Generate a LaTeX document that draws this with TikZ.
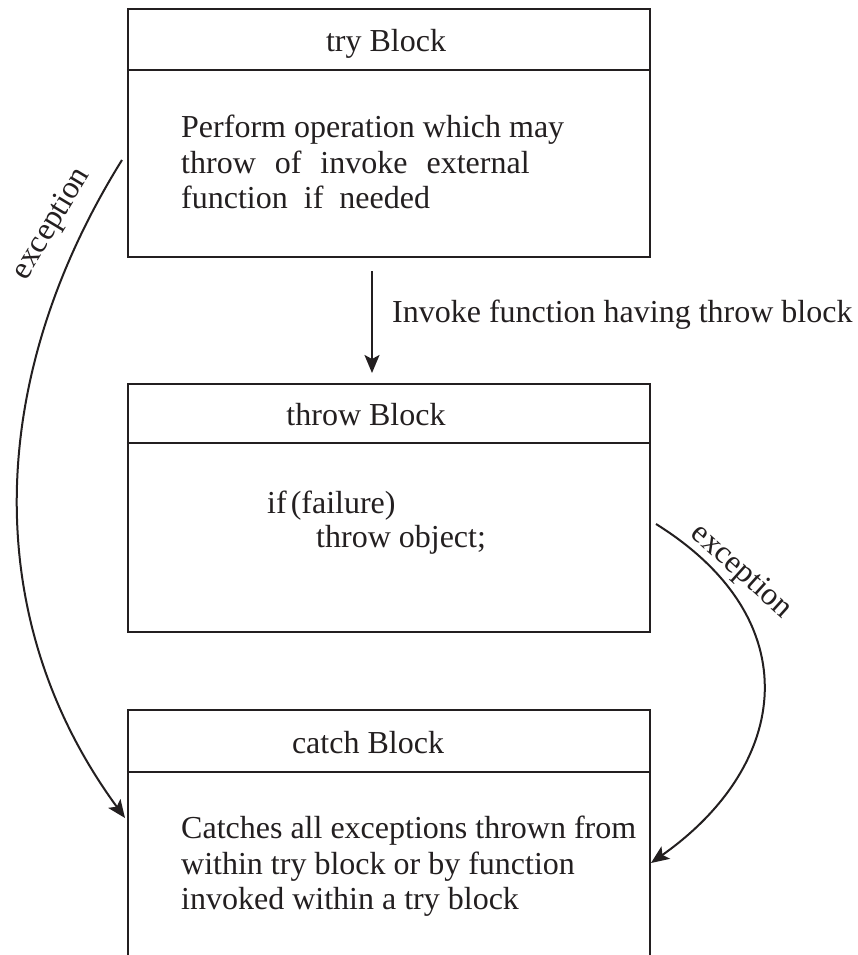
\documentclass[tikz,border=0pt]{standalone}
\usepackage{fontspec}
\setmainfont{Liberation Serif}
\usetikzlibrary{arrows.meta}
\definecolor{ink}{RGB}{35,31,32}
\tikzset{
  blockbox/.style={draw=ink, line width=2.2pt, minimum width=522pt, inner sep=0pt},
  divider/.style={draw=ink, line width=2.2pt},
  txt/.style={inner sep=0pt, text=ink, font=\fontsize{32pt}{35pt}\selectfont},
  conn/.style={draw=ink, line width=2pt, -{Stealth[length=18pt, width=15pt, inset=4pt]}},
}
\begin{document}
\begin{tikzpicture}[x=1pt, y=-1pt]
\useasboundingbox (0,0) rectangle (857,955);
\clip (0,0) rectangle (857,955);
\fill[white] (0,0) rectangle (857,955);

% boxes
\node[blockbox, minimum height=248pt] (try) at (389,133) {};
\node[blockbox, minimum height=248pt] (throw) at (389,508) {};
\node[blockbox, minimum height=290pt] (catch) at (389,855) {};

\draw[divider] (try.west |- 0,70) -- (try.east |- 0,70);
\draw[divider] (throw.west |- 0,443) -- (throw.east |- 0,443);
\draw[divider] (catch.west |- 0,772) -- (catch.east |- 0,772);

% headers
\node[txt, anchor=base] (tryh) at (386,52) {try Block};
\node[txt, anchor=base] (throwh) at (366,425) {throw Block};
\node[txt, anchor=base] (catchh) at (368,753) {catch Block};

% try body
\node[txt, anchor=base west] (t1) at (181,137) {Perform operation which may};
\node[txt, anchor=base west] (t2) at (181,173) {throw\hspace{19pt}of\hspace{19pt}invoke\hspace{19pt}external};
\node[txt, anchor=base west] (t3) at (181,208) {function\hspace{16pt}if\hspace{16pt}needed};

% throw body
\node[txt, anchor=base west] (h1) at (267,513) {if\hspace{4pt}(failure)};
\node[txt, anchor=base west] (h2) at (316,547) {throw object;};

% catch body
\node[txt, anchor=base west] (c1) at (181,838) {Catches all exceptions thrown from};
\node[txt, anchor=base west] (c2) at (181,874) {within try block or by function};
\node[txt, anchor=base west] (c3) at (181,909) {invoked within a try block};

% invoke arrow
\draw[conn] (try.south) ++(-17,13) coordinate (a1) (a1) -- (a1 |- 0,373) coordinate (a2);
\node[txt, anchor=base west] (inv) at (392,322) {Invoke function having throw block};

% left exception curve
\coordinate (ls) at (122,160);
\coordinate (le) at (125,818);
\draw[conn] (ls) .. controls (-15,380) and (-20,620) .. (le);
\node[txt, rotate=59] (lex) at (52,224) {exception};

% right exception curve
\coordinate (rs) at (656,524);
\coordinate (re) at (651,863);
\draw[conn] (rs) .. controls (810,620) and (790,765) .. (re);
\node[txt, rotate=-42] (rex) at (741,572) {exception};
\end{tikzpicture}
\end{document}
